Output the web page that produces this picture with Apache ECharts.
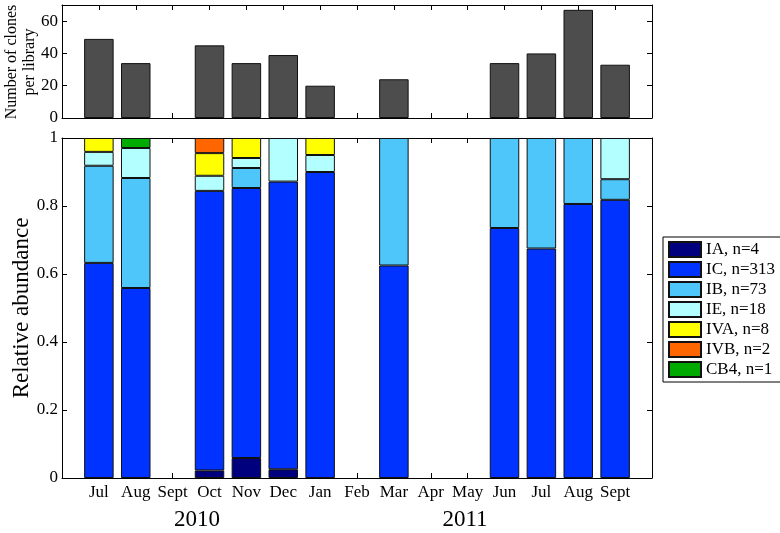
<!DOCTYPE html>
<html>
<head>
<meta charset="utf-8">
<script src="https://cdn.jsdelivr.net/npm/echarts@6/dist/echarts.min.js"></script>
<style>html,body{margin:0;padding:0;background:#fff;}#c{width:780px;height:533px;}</style>
</head>
<body>
<div id="c"></div>
<script>
const months = ['Jul','Aug','Sept','Oct','Nov','Dec','Jan','Feb','Mar','Apr','May','Jun','Jul','Aug','Sept'];
const clonesPerLibrary = [49,34,null,45,34,39,20,null,24,null,null,34,40,67,33];
const IA  = [0,0,0,1,2,1,0,0,0,0,0,0,0,0,0];
const IC  = [31,19,0,37,27,33,18,0,15,0,0,25,27,54,27];
const IB  = [14,11,0,0,2,0,0,0,9,0,0,9,13,13,2];
const IE  = [2,3,0,2,1,5,1,0,0,0,0,0,0,0,4];
const IVA = [2,0,0,3,2,0,1,0,0,0,0,0,0,0,0];
const IVB = [0,0,0,2,0,0,0,0,0,0,0,0,0,0,0];
const CB4 = [0,1,0,0,0,0,0,0,0,0,0,0,0,0,0];
const cladeNames = ['IA, n=4','IC, n=313','IB, n=73','IE, n=18','IVA, n=8','IVB, n=2','CB4, n=1'];
const cladeCounts = [IA, IC, IB, IE, IVA, IVB, CB4];
const cladeColors = ['#00007f','#0033ff','#4fc6fa','#b3ffff','#ffff00','#ff6600','#00aa00'];
const yearLabels = ['2010','2011'];
const topTicks = [0,20,40,60];

const FONT = 'Liberation Serif';
const chart = echarts.init(document.getElementById('c'), null, {renderer:'canvas'});

// frame axes (value scale 0..16, categories at 1..15)
function xFrame(grid, pos, labels){
  return {
    type:'value', gridIndex:grid, position:pos, min:0, max:16, interval:1,
    axisLine:{show:true, onZero:false, lineStyle:{color:'#000', width:1}},
    axisTick:{show:true, inside:true, length:5, lineStyle:{color:'#000'}},
    splitLine:{show:false},
    axisLabel:{show:labels, margin:6, fontFamily:FONT, fontSize:17, color:'#000',
      formatter:function(v){ return (v>=1 && v<=15) ? months[v-1] : ''; }}
  };
}
function yFrame(grid, pos, labels, min, max, interval, fmt){
  return {
    type:'value', gridIndex:grid, position:pos, min:min, max:max, interval:interval,
    axisLine:{show:true, onZero:false, lineStyle:{color:'#000', width:1}},
    axisTick:{show:true, inside:true, length:5, lineStyle:{color:'#000'}},
    splitLine:{show:false},
    axisLabel:{show:labels, margin:4, fontFamily:FONT, fontSize:17, color:'#000', formatter:fmt}
  };
}
// hidden data axes
function xData(grid){
  return {type:'category', gridIndex:grid, data:months, boundaryGap:true, show:false,
    axisLine:{onZero:false}};
}
function yData(grid, min, max){
  return {type:'value', gridIndex:grid, min:min, max:max, show:false, splitLine:{show:false}};
}

const series = [];
series.push({
  type:'bar', name:'clones', xAxisIndex:4, yAxisIndex:4, barWidth:'80%',
  itemStyle:{color:'#4d4d4d', borderColor:'#111', borderWidth:1},
  data: clonesPerLibrary
});
cladeCounts.forEach((arr, k)=>{
  series.push({
    type:'bar', name:cladeNames[k], stack:'rel', xAxisIndex:5, yAxisIndex:5, barWidth:'80%',
    itemStyle:{color:cladeColors[k], borderColor:'#111', borderWidth:1},
    data: arr.map((c,i)=> (c>0 && clonesPerLibrary[i]) ? c/clonesPerLibrary[i] : null)
  });
});

const band = 590/16;
const option = {
  animation:false,
  backgroundColor:'#fff',
  grid:[
    {left:62, top:5, width:590, height:113},
    {left:62, top:138, width:590, height:340},
    {left:62+band/2, top:5, width:590-band, height:113},
    {left:62+band/2, top:138, width:590-band, height:340}
  ],
  xAxis:[ xFrame(0,'bottom',false), xFrame(0,'top',false), xFrame(1,'bottom',true), xFrame(1,'top',false),
          xData(2), xData(3) ],
  yAxis:[
    yFrame(0,'left',true,0,70,20,function(v){ return topTicks.indexOf(v)>=0 ? String(v) : ''; }),
    yFrame(0,'right',false,0,70,20),
    yFrame(1,'left',true,0,1,0.2,function(v){ return String(Math.round(v*10)/10); }),
    yFrame(1,'right',false,0,1,0.2),
    yData(2,0,70), yData(3,0,1)
  ],
  legend:{
    data: cladeNames, orient:'vertical', left:663, top:237,
    icon:'rect', itemWidth:32, itemHeight:15, itemGap:3,
    padding:[4,6,4,5], borderColor:'#000', borderWidth:1, backgroundColor:'#fff',
    textStyle:{fontFamily:FONT, fontSize:17, color:'#000'}
  },
  graphic:[
    {type:'text', x:21, y:62, rotation:Math.PI/2,
      style:{text:'Number of clones\nper library', fontFamily:FONT, fontSize:16, lineHeight:18, fill:'#000', align:'center', verticalAlign:'middle'}},
    {type:'text', x:22, y:308, rotation:Math.PI/2,
      style:{text:'Relative abundance', fontFamily:FONT, fontSize:23, fill:'#000', align:'center', verticalAlign:'middle'}},
    {type:'text', x:197, y:520,
      style:{text:yearLabels[0], fontFamily:FONT, fontSize:23, fill:'#000', align:'center', verticalAlign:'middle'}},
    {type:'text', x:465, y:520,
      style:{text:yearLabels[1], fontFamily:FONT, fontSize:23, fill:'#000', align:'center', verticalAlign:'middle'}}
  ],
  series: series
};
chart.setOption(option);
</script>
</body>
</html>
